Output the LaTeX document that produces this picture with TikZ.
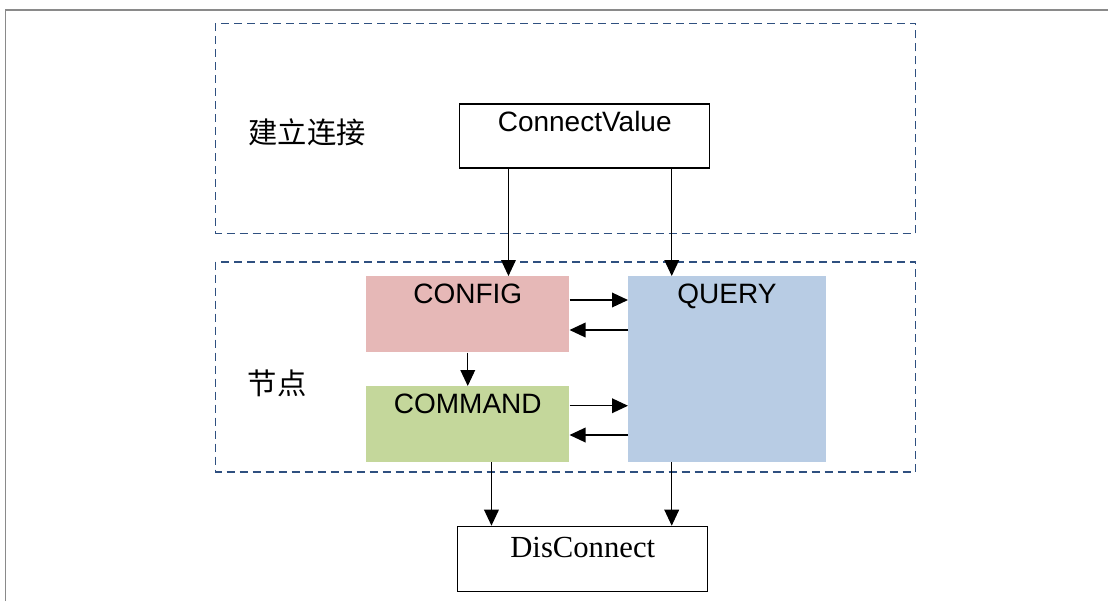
\documentclass[tikz,border=0pt]{standalone}
\usepackage{fontspec}
\newfontfamily\arialfont{Liberation Sans}
\newfontfamily\timesfont{Liberation Serif}
\newfontfamily\cjkfont{Noto Sans CJK SC}
\usetikzlibrary{arrows.meta}
\definecolor{groupblue}{HTML}{2F5080}
\definecolor{configpink}{HTML}{E6B8B7}
\definecolor{querysky}{HTML}{B8CCE4}
\definecolor{commandgreen}{HTML}{C4D79B}
\definecolor{framegray}{HTML}{8A8A8A}
\tikzset{
  group/.style={draw=groupblue, line width=1.2pt, dash pattern=on 6pt off 3.75pt},
  plainbox/.style={draw, line width=1.1pt, anchor=north west, inner sep=0pt},
  fillbox/.style={anchor=north west, inner sep=0pt, text height=20.25pt},
  sansfont/.style={font=\arialfont\fontsize{21}{21}\selectfont},
  arr/.style={-{Triangle[length=12pt,width=11pt]}, line width=1pt},
  side/.style={font=\cjkfont\fontsize{22}{22}\selectfont}
}
\begin{document}
\begin{tikzpicture}[x=0.75pt,y=-0.75pt]
\useasboundingbox (0,0) rectangle (1108,601);
\draw[framegray, line width=1.3pt] (5.5,601) -- (5.5,10) -- (1108,10);
% groups
\draw[group] (215.6,23.3) rectangle (915.6,233.3);
\draw[group] (215.6,261.7) rectangle (915.6,471.7);
\node[side] (connlabel) at (307,132.5) {建立连接};
\node[side] (nodelabel) at (277,383.5) {节点};
% boxes
\node[plainbox, sansfont, minimum width=187.5pt, text height=20.5pt, text depth=27.5pt] (cv) at (459,103.3) {ConnectValue};
\node[fillbox, sansfont, fill=configpink, minimum width=152.25pt, text depth=36.75pt] (config) at (366,276) {CONFIG};
\node[fillbox, sansfont, fill=commandgreen, minimum width=152.25pt, text depth=36.5pt] (command) at (366,386) {COMMAND};
\node[fillbox, sansfont, fill=querysky, minimum width=148pt, text depth=119pt] (query) at (628,276) {QUERY};
\node[plainbox, font=\timesfont\fontsize{23}{23}\selectfont, minimum width=187.5pt, text height=23.25pt, text depth=25.35pt] (dis) at (457,525.7) {DisConnect};
% connectors
\coordinate (cvleft) at ([xshift=37.1pt]cv.south west);
\draw[arr] (cvleft) -- (cvleft |- config.north);
\coordinate (qtop) at ([xshift=32.8pt]query.north west);
\draw[arr] (qtop |- cv.south) -- (qtop);
\coordinate (cq1) at ([yshift=-18pt]config.north east);
\draw[arr] (cq1) -- (cq1 -| query.west);
\coordinate (cq2) at ([yshift=-40.5pt]config.north east);
\draw[arr] (cq2 -| query.west) -- (cq2);
\draw[arr] (config.south) -- (command.north);
\coordinate (mq1) at ([yshift=-14.8pt]command.north east);
\draw[arr] (mq1) -- (mq1 -| query.west);
\coordinate (mq2) at ([yshift=-36.75pt]command.north east);
\draw[arr] (mq2 -| query.west) -- (mq2);
\coordinate (cmdbot) at ([xshift=94.1pt]command.south west);
\draw[arr] (cmdbot) -- (cmdbot |- dis.north);
\coordinate (qbot) at ([xshift=32.8pt]query.south west);
\draw[arr] (qbot) -- (qbot |- dis.north);
\end{tikzpicture}
\end{document}
